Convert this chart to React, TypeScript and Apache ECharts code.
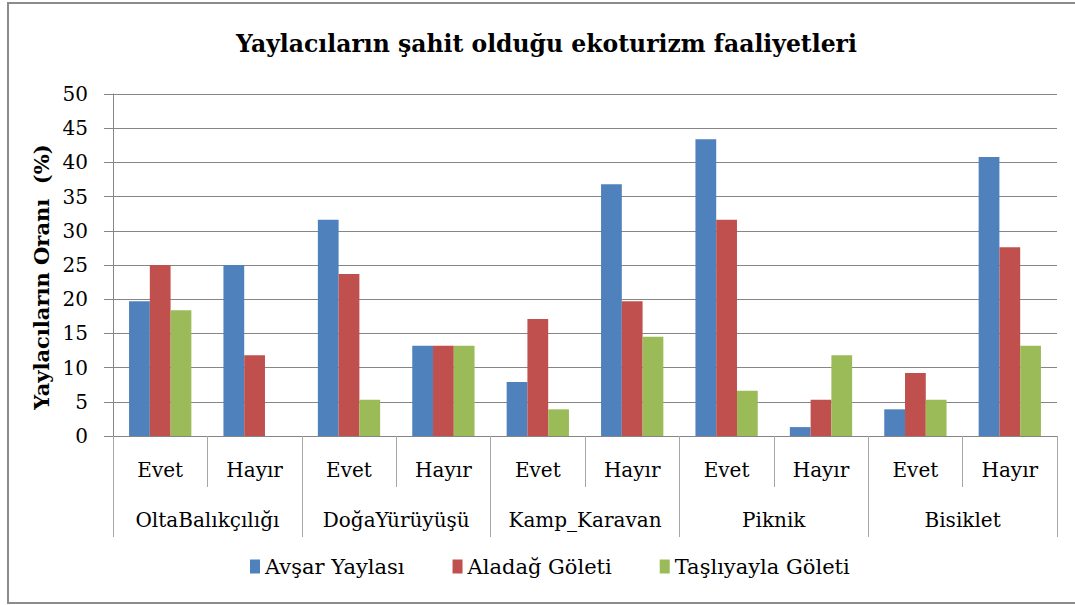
import React, { useEffect, useRef } from "react";
import * as echarts from "echarts";

const subCategories = ["Evet", "Hayır", "Evet", "Hayır", "Evet", "Hayır", "Evet", "Hayır", "Evet", "Hayır"];
const groups = ["OltaBalıkçılığı", "DoğaYürüyüşü", "Kamp_Karavan", "Piknik", "Bisiklet"];
const seriesNames = ["Avşar Yaylası", "Aladağ Göleti", "Taşlıyayla Göleti"];
const avsar = [19.7, 25, 31.6, 13.2, 7.9, 36.8, 43.4, 1.3, 3.9, 40.8];
const aladag = [25, 11.8, 23.7, 13.2, 17.1, 19.7, 31.6, 5.3, 9.2, 27.6];
const taslıyayla = [18.4, 0, 5.3, 13.2, 3.9, 14.5, 6.6, 11.8, 5.3, 13.2];
const colors = ["#4F81BD", "#C0504D", "#9BBB59"];
const titleText = "Yaylacıların şahit olduğu ekoturizm faaliyetleri";
const yName = "Yaylacıların Oranı  (%)";

const FONT = "DejaVu Serif";

export default function App() {
  const ref = useRef<HTMLDivElement>(null);
  useEffect(() => {
    if (!ref.current) return;
    const chart = echarts.init(ref.current, undefined, { renderer: "svg" });
    const data = [avsar, aladag, taslıyayla];
    chart.setOption({
      animation: false,
      backgroundColor: "#ffffff",
      textStyle: { fontFamily: FONT },
      title: {
        text: titleText,
        left: 231,
        top: 27,
        textStyle: { fontFamily: FONT, fontSize: 23.5, fontWeight: "bold", color: "#000" },
      },
      legend: {
        bottom: 23,
        left: 245,
        itemWidth: 10,
        itemHeight: 14,
        itemGap: 48,
        icon: "rect",
        textStyle: { fontFamily: FONT, fontSize: 21, color: "#000" },
        data: seriesNames,
      },
      grid: { left: 113, right: 18, top: 94, bottom: 169, containLabel: false },
      xAxis: [
        {
          type: "category",
          data: subCategories,
          position: "bottom",
          axisLine: { show: true, lineStyle: { color: "#868686", width: 1 } },
          axisTick: { show: true, interval: 0, length: 51, lineStyle: { color: "#A6A6A6" } },
          axisLabel: { interval: 0, margin: 24, fontFamily: FONT, fontSize: 20, color: "#000" },
          splitLine: { show: false },
        },
        {
          type: "category",
          data: groups,
          position: "bottom",
          axisLine: { show: false },
          axisTick: { show: true, interval: 0, length: 101, lineStyle: { color: "#A6A6A6" } },
          axisLabel: { interval: 0, margin: 74, fontFamily: FONT, fontSize: 20, color: "#000" },
          splitLine: { show: false },
        },
      ],
      yAxis: {
        type: "value",
        min: 0,
        max: 50,
        interval: 5,
        name: yName,
        nameLocation: "middle",
        nameGap: 53,
        nameTextStyle: {
          fontFamily: FONT,
          fontSize: 21,
          fontWeight: "bold",
          color: "#000",
          padding: [0, 24, 0, 0],
        },
        axisLine: { show: true, lineStyle: { color: "#868686" } },
        axisTick: { show: true, length: 9, lineStyle: { color: "#868686" } },
        axisLabel: { margin: 25, fontFamily: FONT, fontSize: 20, color: "#000" },
        splitLine: { show: true, lineStyle: { color: "#868686", width: 1 } },
      },
      graphic: [
        {
          type: "rect",
          shape: { x: 8, y: 3, width: 1080, height: 600 },
          style: { fill: "none", stroke: "#8C8C8C", lineWidth: 2 },
          silent: true,
          z: -1,
        },
      ],
      series: seriesNames.map((name, i) => ({
        name,
        type: "bar",
        xAxisIndex: 0,
        data: data[i],
        barGap: "0%",
        barCategoryGap: "34%",
        itemStyle: { color: colors[i] },
      })),
    });
    return () => chart.dispose();
  }, []);
  return (
    <div
      ref={ref}
      style={{ position: "fixed", left: 0, top: 0, width: 1075, height: 605 }}
    />
  );
}
